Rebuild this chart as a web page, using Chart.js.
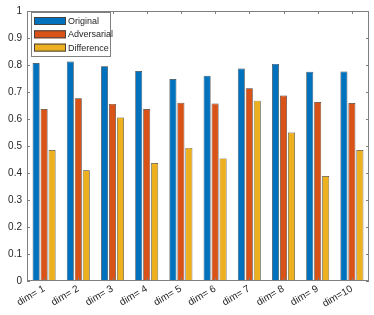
<!DOCTYPE html>
<html>
<head>
<meta charset="utf-8">
<script src="https://cdn.jsdelivr.net/npm/chart.js@4.4.0/dist/chart.umd.min.js"></script>
<style>
  html, body { margin: 0; padding: 0; background: #fff; }
  #wrap { width: 374px; height: 315px; }
</style>
</head>
<body>
<div id="wrap"><canvas id="barChart" width="374" height="315"></canvas></div>
<script>
// === Data ===
const dimLabels = ['dim= 1', 'dim= 2', 'dim= 3', 'dim= 4', 'dim= 5', 'dim= 6', 'dim= 7', 'dim= 8', 'dim= 9', 'dim=10'];
const seriesNames = ['Original', 'Adversarial', 'Difference'];
const originalVals = [0.807, 0.813, 0.795, 0.778, 0.748, 0.760, 0.787, 0.804, 0.775, 0.776];
const adversarialVals = [0.637, 0.677, 0.656, 0.637, 0.660, 0.657, 0.714, 0.687, 0.663, 0.659];
const differenceVals = [0.485, 0.410, 0.606, 0.437, 0.493, 0.454, 0.668, 0.550, 0.389, 0.485];
const yTicks = [0, 0.1, 0.2, 0.3, 0.4, 0.5, 0.6, 0.7, 0.8, 0.9, 1];

const barColors = ['#0072BD', '#D95319', '#EDB120'];
const axisColor = '#808080';
const textColor = '#262626';
const fontFamily = 'Liberation Sans, Arial, Helvetica, sans-serif';

// === Kotak sumbu + tick ke dalam ala MATLAB ===
const frameBox = {
  id: 'frameBox',
  afterDraw(chart) {
    const { ctx, chartArea: a, scales } = chart;
    ctx.save();
    ctx.strokeStyle = axisColor;
    ctx.lineWidth = 1;
    ctx.strokeRect(a.left + 0.5, a.top + 0.5, a.right - a.left - 1, a.bottom - a.top - 1);
    ctx.beginPath();
    yTicks.forEach(v => {
      const y = Math.round(scales.y.getPixelForValue(v)) + 0.5;
      ctx.moveTo(a.left, y); ctx.lineTo(a.left + 3, y);
      ctx.moveTo(a.right, y); ctx.lineTo(a.right - 3, y);
    });
    dimLabels.forEach((_, i) => {
      const x = Math.round(scales.x.getPixelForValue(i)) + 0.5;
      ctx.moveTo(x, a.top); ctx.lineTo(x, a.top + 3);
      ctx.moveTo(x, a.bottom); ctx.lineTo(x, a.bottom - 3);
    });
    ctx.stroke();
    ctx.restore();
  }
};

// === Legend di dalam area plot ===
const innerLegend = {
  id: 'innerLegend',
  afterDraw(chart) {
    const { ctx, chartArea: a } = chart;
    const x0 = a.left + 4, y0 = a.top + 1;
    const w = 79, h = 44, rowH = 13.3;
    ctx.save();
    ctx.fillStyle = '#fff';
    ctx.fillRect(x0, y0, w, h);
    ctx.strokeStyle = axisColor;
    ctx.lineWidth = 1;
    ctx.strokeRect(x0 + 0.5, y0 + 0.5, w, h);
    ctx.font = '9px ' + fontFamily;
    ctx.textBaseline = 'middle';
    chart.data.datasets.forEach((ds, i) => {
      const ry = y0 + 5 + i * rowH;
      ctx.fillStyle = ds.backgroundColor;
      ctx.fillRect(x0 + 3, ry, 32, 8);
      ctx.strokeStyle = '#444';
      ctx.strokeRect(x0 + 3.5, ry + 0.5, 31, 7);
      ctx.fillStyle = textColor;
      ctx.fillText(ds.label, x0 + 37, ry + 4.5);
    });
    ctx.restore();
  }
};

const datasets = [originalVals, adversarialVals, differenceVals].map((vals, i) => ({
  label: seriesNames[i],
  data: vals,
  backgroundColor: barColors[i],
  borderColor: '#3a3a3a',
  borderWidth: 0.7,
  categoryPercentage: 0.7,
  barPercentage: 0.88
}));

new Chart(document.getElementById('barChart'), {
  type: 'bar',
  data: { labels: dimLabels, datasets },
  options: {
    responsive: false,
    animation: false,
    devicePixelRatio: 1,
    layout: { padding: { top: 10, right: 5, left: 0, bottom: 0 } },
    plugins: {
      legend: { display: false },
      tooltip: { enabled: false }
    },
    scales: {
      x: {
        grid: { display: false, drawTicks: false },
        border: { display: false },
        ticks: {
          minRotation: 30,
          maxRotation: 30,
          padding: 2,
          color: textColor,
          font: { family: fontFamily, size: 10 }
        },
        afterFit: s => { s.height = 34; }
      },
      y: {
        min: 0,
        max: 1,
        grid: { display: false, drawTicks: false },
        border: { display: false },
        afterBuildTicks: s => { s.ticks = yTicks.map(v => ({ value: v })); },
        ticks: {
          padding: 5,
          color: textColor,
          font: { family: fontFamily, size: 10 },
          callback: v => String(Number(v.toFixed(1)))
        },
        afterFit: s => { s.width = 27; }
      }
    }
  },
  plugins: [frameBox, innerLegend]
});
</script>
</body>
</html>
